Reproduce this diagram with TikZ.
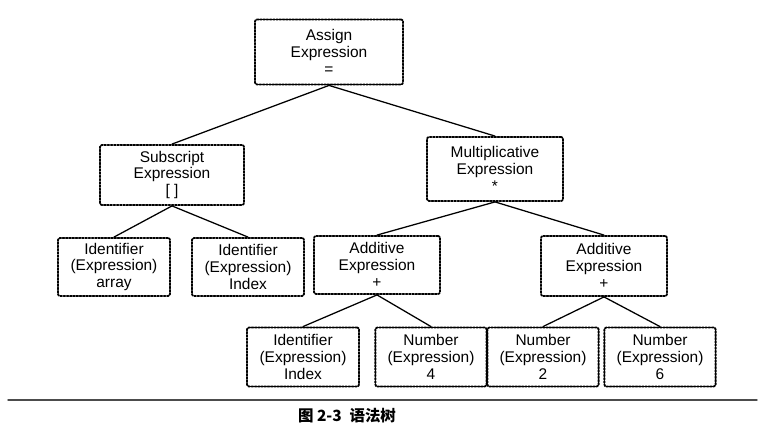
\documentclass[tikz,border=0pt]{standalone}
\usepackage{fontspec}
\setmainfont{Liberation Sans}
\newfontfamily\cjk{Noto Sans CJK SC}
\begin{document}
\begin{tikzpicture}[x=0.025cm,y=-0.025cm, line join=round, line cap=round,
	font=\fontsize{11}{12}\selectfont,
	treebox/.style={draw, densely dotted, line width=1.3pt, rounded corners=1.5pt, align=center, inner sep=0pt},
	edge/.style={line width=0.9pt}]
	\useasboundingbox (0,0) rectangle (775,432);
	% Knoten
	\node[treebox, minimum width=3.7cm, minimum height=1.625cm] (assign) at (329,52) {Assign\\Expression\\=};
	\node[treebox, minimum width=3.6cm, minimum height=1.5cm] (sub) at (172,175) {Subscript\\Expression\\{[ ]}};
	\node[treebox, minimum width=3.4cm, minimum height=1.6cm] (mul) at (495,169) {Multiplicative\\Expression\\*};
	\node[treebox, minimum width=2.8cm, minimum height=1.45cm] (ida) at (114,267) {Identifier\\(Expression)\\array};
	\node[treebox, minimum width=2.8cm, minimum height=1.45cm] (idb) at (248,267) {Identifier\\(Expression)\\Index};
	\node[treebox, minimum width=3.15cm, minimum height=1.45cm] (adda) at (377,265) {Additive\\Expression\\+};
	\node[treebox, minimum width=3.15cm, minimum height=1.5cm] (addb) at (604,266) {Additive\\Expression\\+};
	\node[treebox, minimum width=2.8cm, minimum height=1.475cm] (idc) at (303,357) {Identifier\\(Expression)\\Index};
	\node[treebox, minimum width=2.78cm, minimum height=1.475cm] (numa) at (431,357) {Number\\(Expression)\\4};
	\node[treebox, minimum width=2.78cm, minimum height=1.475cm] (numb) at (543,357) {Number\\(Expression)\\2};
	\node[treebox, minimum width=2.78cm, minimum height=1.475cm] (numc) at (660,357) {Number\\(Expression)\\6};
	% Kanten
	\draw[edge] (assign.south) -- (sub.north);
	\draw[edge] (assign.south) -- (mul.north);
	\draw[edge] (sub.south) -- (ida.north);
	\draw[edge] (sub.south) -- (idb.north);
	\draw[edge] (mul.south) -- (adda.north);
	\draw[edge] (mul.south) -- (addb.north);
	\draw[edge] (adda.south) -- (idc.north);
	\draw[edge] (adda.south) -- (numa.north);
	\draw[edge] (addb.south) -- (numb.north);
	\draw[edge] (addb.south) -- (numc.north);
	% Bildunterschrift
	\coordinate (rl) at (8,400);
	\coordinate (rr) at (757,400);
	\draw[line width=1pt, black!70] (rl) -- (rr);
	\node[font=\cjk\fontsize{11}{12}\selectfont\bfseries] (cap) at (347,416) {图 2-3\enspace 语法树};
\end{tikzpicture}
\end{document}
